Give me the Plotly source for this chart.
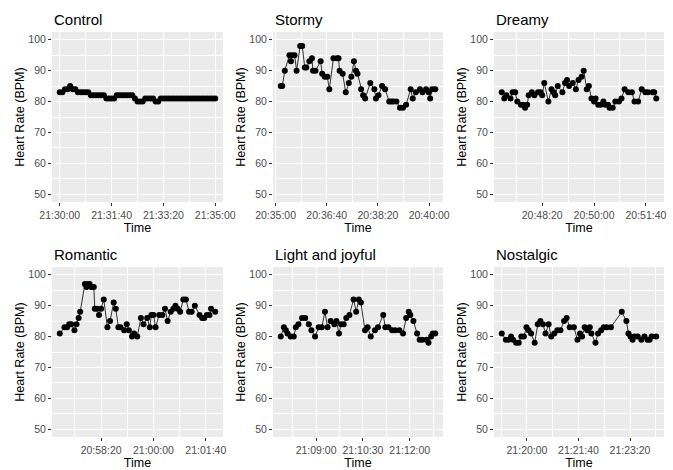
import pandas as pd
import plotly.graph_objects as go

# ---------------- data ----------------
panel_titles = ["Control", "Stormy", "Dreamy", "Romantic", "Light and joyful", "Nostalgic"]

control_ref = "21:30:00"
control_sec = [0, 5, 10, 15, 20, 25, 30, 35, 40, 45, 50, 55, 60, 65, 70, 75, 80, 85, 90, 95,
               100, 105, 110, 115, 120, 125, 130, 135, 140, 145, 150, 155, 160, 165, 170, 175,
               180, 185, 190, 195, 200, 205, 210, 215, 220, 225, 230, 235, 240, 245, 250, 255,
               260, 265, 270, 275, 280, 285, 290, 295, 300]
control_bpm = [83, 83, 84, 84, 85, 84, 84, 83, 83, 83, 83, 83, 82, 82, 82, 82, 82, 82, 81, 81,
               81, 81, 82, 82, 82, 82, 82, 82, 82, 81, 80, 80, 80, 81, 81, 81,
               81, 80, 80, 81, 81, 81, 81, 81, 81, 81, 81, 81, 81, 81, 81, 81,
               81, 81, 81, 81, 81, 81, 81, 81, 81]

stormy_ref = "20:35:00"
stormy_sec = [10, 13, 18, 27, 30, 32, 37, 41, 48, 52, 57, 60, 66, 71, 73, 78, 88, 91, 96, 101,
              105, 113, 120, 123, 125, 131, 137, 143, 148, 153, 157, 160, 167, 171, 175, 185,
              193, 196, 201, 208, 214, 222, 226, 230, 236, 243, 249, 255, 264, 268, 274, 282,
              287, 294, 299, 302, 306, 312]
stormy_bpm = [85, 85, 90, 95, 93, 95, 95, 90, 98, 98, 91, 91, 93, 94, 90, 90, 93, 89, 88, 88,
              84, 94, 94, 94, 90, 89, 83, 86, 88, 93, 90, 89, 84, 82, 81, 86,
              84, 81, 82, 85, 84, 80, 80, 80, 80, 78, 78, 79, 84, 81, 83, 84,
              83, 84, 83, 81, 84, 84]

dreamy_ref = "20:48:20"
dreamy_sec = [-78, -73, -69, -61, -57, -52, -48, -41, -37, -33, -29, -26, -20, -15, -8, -3, 0,
              4, 12, 18, 22, 25, 30, 39, 44, 48, 52, 59, 65, 70, 76, 80, 86, 90, 95, 100, 103,
              108, 113, 118, 122, 127, 130, 136, 141, 148, 153, 159, 166, 173, 178, 185, 192,
              199, 204, 213, 216, 220]
dreamy_bpm = [83, 81, 82, 81, 83, 83, 80, 79, 79, 78, 79, 82, 83, 82, 83, 83, 82,
              86, 80, 84, 83, 82, 85, 83, 86, 87, 85, 86, 84, 87, 88, 90, 84, 85, 81, 80, 81,
              79, 79, 80, 79, 79, 78, 78, 80, 80, 81, 84, 83, 83, 80, 80, 84,
              83, 83, 83, 83, 81]

romantic_ref = "20:58:20"
romantic_sec = [-79, -70, -65, -61, -57, -51, -47, -43, -40, -31, -28, -25, -22, -19, -14, -12,
                -8, -4, 0, 5, 12, 17, 24, 28, 33, 37, 44, 49, 53, 59, 63, 69, 76, 81, 88, 93,
                96, 100, 104, 111, 117, 122, 127, 133, 138, 142, 146, 151, 157, 162, 168, 173,
                179, 188, 193, 197, 202, 207, 210, 218]
romantic_bpm = [81, 83, 83, 84, 84, 82, 84, 86, 88, 97, 96, 97, 97, 96, 96, 89,
                89, 87, 89, 92, 83, 85, 91, 89, 83, 83, 82, 84, 82, 80, 81, 80, 86, 84, 86, 83,
                87, 87, 83, 87, 87, 89, 85, 88, 89, 90, 89, 88, 92, 92, 88, 88,
                90, 87, 86, 86, 87, 87, 89, 88]

light_ref = "21:09:00"
light_sec = [-68, -62, -58, -55, -49, -43, -39, -34, -27, -21, -14, -9, -2, 5, 11, 17, 22, 28,
             35, 39, 44, 48, 53, 58, 64, 72, 77, 82, 86, 94, 99, 105, 113, 119, 129, 133, 139,
             146, 152, 160, 167, 173, 178, 181, 187, 194, 199, 204, 212, 216, 221, 224, 229]
light_bpm = [80, 83, 82, 81, 80, 80, 83, 84, 86, 86, 84, 82, 80, 83, 83, 88, 83, 85,
             84, 85, 81, 84, 84, 86, 87, 92, 88, 92, 91, 82, 83, 80, 82, 83, 87, 83, 83,
             82, 82, 82, 81, 86, 88, 87, 85, 81, 79, 79, 79, 78, 80, 81, 81]

nostalgic_ref = "21:20:00"
nostalgic_sec = [-49, -41, -36, -31, -27, -21, -16, -11, -6, -1, 3, 8, 15, 21, 26, 31, 36, 42,
                 47, 53, 59, 65, 72, 77, 83, 91, 98, 103, 107, 112, 117, 122, 125, 133, 138,
                 144, 149, 155, 163, 184, 193, 197, 201, 205, 209, 215, 222, 228, 234, 238,
                 242, 251]
nostalgic_bpm = [81, 79, 79, 80, 79, 78, 78, 80, 80, 83, 82, 81, 78, 84, 85, 84, 81, 84,
                 80, 81, 82, 82, 85, 86, 83, 83, 79, 81, 80, 83, 82, 83, 81, 78, 81,
                 82, 83, 83, 83, 88, 85, 81, 80, 79, 80, 80, 79, 80, 79, 79,
                 80, 80]

x_tick_start = ["21:30:00", "20:35:00", "20:48:20", "20:58:20", "21:09:00", "21:20:00"]
x_tick_step_s = [100, 100, 100, 100, 90, 100]
y_ticks = [50, 60, 70, 80, 90, 100]

series = [
    (control_ref, control_sec, control_bpm),
    (stormy_ref, stormy_sec, stormy_bpm),
    (dreamy_ref, dreamy_sec, dreamy_bpm),
    (romantic_ref, romantic_sec, romantic_bpm),
    (light_ref, light_sec, light_bpm),
    (nostalgic_ref, nostalgic_sec, nostalgic_bpm),
]

# ---------------- layout / styling ----------------
W, H = 673, 470
DAY = "2021-01-01 "
FONT = "Liberation Sans, Arial, sans-serif"
# plot panel boxes in pixels: (left, right, top, bottom)
boxes = [(52, 223, 32, 202), (273, 443, 32, 202), (494, 664, 32, 202),
         (52, 223, 267, 437), (273, 443, 267, 437), (494, 664, 267, 437)]

fig = go.Figure()
annotations = []
layout_axes = {}

for i, ((ref, secs, bpm), title, box) in enumerate(zip(series, panel_titles, boxes)):
    n = "" if i == 0 else str(i + 1)
    t0 = pd.Timestamp(DAY + ref)
    times = [t0 + pd.Timedelta(seconds=s) for s in secs]
    fig.add_trace(go.Scatter(
        x=times, y=bpm, mode="lines+markers",
        line=dict(color="black", width=0.8),
        marker=dict(color="black", size=6),
        xaxis="x" + n, yaxis="y" + n, showlegend=False,
        hovertemplate="%{x|%H:%M:%S}<br>%{y} BPM<extra></extra>",
    ))
    tmin, tmax = min(times), max(times)
    pad = (tmax - tmin) * 0.05
    L, R, T, B = box
    tick0 = pd.Timestamp(DAY + x_tick_start[i])
    step = x_tick_step_s[i] * 1000
    layout_axes["xaxis" + n] = dict(
        domain=[L / W, R / W], anchor="y" + n, type="date",
        range=[tmin - pad, tmax + pad],
        tick0=tick0, dtick=step, tickformat="%H:%M:%S",
        ticks="outside", ticklen=3, tickwidth=1, tickcolor="#333333",
        tickfont=dict(family=FONT, size=10.5, color="#4D4D4D"),
        showgrid=True, gridcolor="white", gridwidth=1.1,
        minor=dict(tick0=tick0, dtick=step / 2, showgrid=True, gridcolor="white", gridwidth=0.5),
        zeroline=False, showline=False,
        title=dict(text="Time", font=dict(family=FONT, size=12.5, color="black"), standoff=3),
        automargin=False,
    )
    layout_axes["yaxis" + n] = dict(
        domain=[1 - B / H, 1 - T / H], anchor="x" + n,
        range=[47.5, 102.5], tickvals=y_ticks,
        ticks="outside", ticklen=3, tickwidth=1, tickcolor="#333333",
        tickfont=dict(family=FONT, size=10.5, color="#4D4D4D"),
        showgrid=True, gridcolor="white", gridwidth=1.1,
        minor=dict(dtick=5, tick0=45, showgrid=True, gridcolor="white", gridwidth=0.5),
        zeroline=False, showline=False,
        title=dict(text="Heart Rate (BPM)", font=dict(family=FONT, size=12.5, color="black"), standoff=0),
        automargin=False,
    )
    annotations.append(dict(
        text=title, x=L / W, y=1 - (T - 13) / H, xref="paper", yref="paper",
        xanchor="left", yanchor="middle", showarrow=False,
        font=dict(family=FONT, size=15, color="black"),
    ))

fig.update_layout(
    width=W, height=H,
    margin=dict(l=0, r=0, t=0, b=0),
    paper_bgcolor="white", plot_bgcolor="#EBEBEB",
    font=dict(family=FONT),
    annotations=annotations,
    **layout_axes,
)

fig.write_html("out.html", config={"displayModeBar": False},
               post_script="document.body.style.margin='0';document.body.style.overflow='hidden';")
